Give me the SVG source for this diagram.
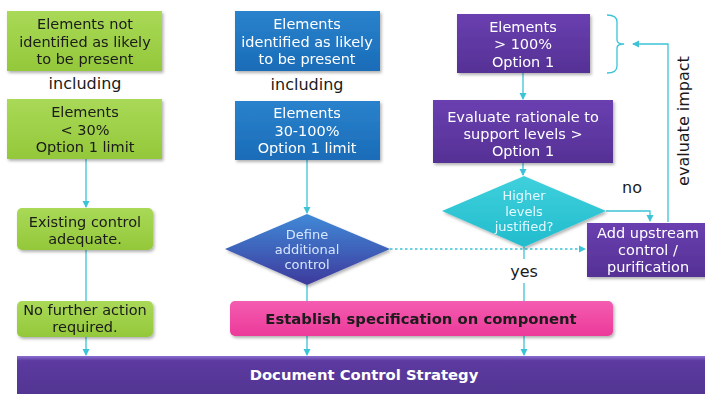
<svg xmlns="http://www.w3.org/2000/svg" width="705" height="394" viewBox="0 0 705 394">
<defs>
<linearGradient id="gGreen" x1="0" y1="0" x2="0" y2="1"><stop offset="0" stop-color="#a9d957"/><stop offset="1" stop-color="#94c83a"/></linearGradient>
<linearGradient id="gBlue" x1="0" y1="0" x2="0" y2="1"><stop offset="0" stop-color="#2a82cc"/><stop offset="1" stop-color="#1a6cb8"/></linearGradient>
<linearGradient id="gPurple" x1="0" y1="0" x2="0" y2="1"><stop offset="0" stop-color="#6a3fb0"/><stop offset="1" stop-color="#553195"/></linearGradient>
<linearGradient id="gBar" x1="0" y1="0" x2="0" y2="1"><stop offset="0" stop-color="#8a6fd0"/><stop offset="0.12" stop-color="#5c3aa0"/><stop offset="1" stop-color="#523592"/></linearGradient>
<linearGradient id="gDef" x1="0" y1="0" x2="0" y2="1"><stop offset="0" stop-color="#3f8ad8"/><stop offset="1" stop-color="#3e3a9c"/></linearGradient>
<linearGradient id="gCyan" x1="0" y1="0" x2="0" y2="1"><stop offset="0" stop-color="#3fd0dc"/><stop offset="1" stop-color="#22bccd"/></linearGradient>
<linearGradient id="gPink" x1="0" y1="0" x2="0" y2="1"><stop offset="0" stop-color="#f45cb0"/><stop offset="1" stop-color="#ec3a9a"/></linearGradient>
<filter id="sh" x="-10%" y="-10%" width="125%" height="130%"><feDropShadow dx="1.5" dy="2" stdDeviation="1.5" flood-color="#000" flood-opacity="0.3"/></filter>
<marker id="arr" markerWidth="8" markerHeight="8" refX="6" refY="4" orient="auto" markerUnits="userSpaceOnUse"><path d="M0,0.5 L7,4 L0,7.5 Z" fill="#3cc3d6"/></marker>
</defs>
<style>
.t{font-family:"DejaVu Sans",Verdana,sans-serif;font-size:14.5px;text-anchor:middle}
.dk{fill:#1a1a1a}
.wh{fill:#ffffff}
.dm{font-size:13px}
.lbl{font-family:"DejaVu Sans",Verdana,sans-serif;font-size:16px;fill:#1a1a1a;text-anchor:middle}
.bd{font-weight:bold;font-size:14.8px}
.ln{stroke:#3cc3d6;stroke-width:1.3;fill:none}
.dot{stroke:#3cc3d6;stroke-width:1.6;fill:none;stroke-dasharray:2.5 2.5}
</style>

<g id="connectors">
<line class="ln" x1="86" y1="159" x2="86" y2="207" marker-end="url(#arr)"/>
<line class="ln" x1="86" y1="250" x2="86" y2="301"/>
<line class="ln" x1="86" y1="337" x2="86" y2="355" marker-end="url(#arr)"/>
<line class="ln" x1="307" y1="160" x2="307" y2="213" marker-end="url(#arr)"/>
<line class="ln" x1="307" y1="285" x2="307" y2="301"/>
<line class="ln" x1="307" y1="336" x2="307" y2="355" marker-end="url(#arr)"/>
<line class="ln" x1="523" y1="73" x2="523" y2="99" marker-end="url(#arr)"/>
<line class="ln" x1="523" y1="163" x2="523" y2="175" marker-end="url(#arr)"/>
<line class="ln" x1="524" y1="247" x2="524" y2="259"/>
<line class="ln" x1="524" y1="283" x2="524" y2="301"/>
<line class="ln" x1="524" y1="336" x2="524" y2="355" marker-end="url(#arr)"/>
<polyline class="ln" points="606,211 650,211 650,221" marker-end="url(#arr)"/>
<line class="dot" x1="390" y1="249" x2="585" y2="249" marker-end="url(#arr)"/>
<polyline class="ln" points="668,222 668,44 633,44" marker-end="url(#arr)"/>
<path class="ln" d="M607,15 Q617,15 617,22 L617,40 Q617,44 624,44 Q617,44 617,48 L617,66 Q617,73 607,73"/>
</g>

<g id="n-not-identified" filter="url(#sh)">
<rect x="7" y="11" width="155" height="60" fill="url(#gGreen)"/>
<text class="t dk" x="85" y="29">Elements not</text>
<text class="t dk" x="85" y="47">identified as likely</text>
<text class="t dk" x="85" y="64">to be present</text>
</g>
<g id="l-including-1"><text class="lbl" x="85" y="89">including</text></g>
<g id="n-lt30" filter="url(#sh)">
<rect x="7" y="99" width="155" height="60" fill="url(#gGreen)"/>
<text class="t dk" x="85" y="117">Elements</text>
<text class="t dk" x="85" y="135">&lt; 30%</text>
<text class="t dk" x="85" y="152">Option 1 limit</text>
</g>
<g id="n-existing" filter="url(#sh)">
<rect x="17" y="208" width="136" height="42" rx="5" fill="url(#gGreen)"/>
<text class="t dk" x="85" y="227">Existing control</text>
<text class="t dk" x="85" y="244">adequate.</text>
</g>
<g id="n-nofurther" filter="url(#sh)">
<rect x="17" y="301" width="136" height="36" rx="5" fill="url(#gGreen)"/>
<text class="t dk" x="85" y="315">No further action</text>
<text class="t dk" x="85" y="332">required.</text>
</g>

<g id="n-identified" filter="url(#sh)">
<rect x="235" y="11" width="145" height="60" fill="url(#gBlue)"/>
<text class="t wh" x="307" y="29">Elements</text>
<text class="t wh" x="307" y="47">identified as likely</text>
<text class="t wh" x="307" y="64">to be present</text>
</g>
<g id="l-including-2"><text class="lbl" x="307" y="90">including</text></g>
<g id="n-30-100" filter="url(#sh)">
<rect x="235" y="101" width="145" height="59" fill="url(#gBlue)"/>
<text class="t wh" x="307" y="118">Elements</text>
<text class="t wh" x="307" y="136">30-100%</text>
<text class="t wh" x="307" y="153">Option 1 limit</text>
</g>
<g id="n-define" filter="url(#sh)">
<polygon points="307,214 390,249 307,285 225,249" fill="url(#gDef)"/>
<text class="t dm" style="fill:#d6e6ff" x="307" y="239">Define</text>
<text class="t dm" style="fill:#d6e6ff" x="307" y="254">additional</text>
<text class="t dm" style="fill:#d6e6ff" x="307" y="269">control</text>
</g>

<g id="n-gt100" filter="url(#sh)">
<rect x="457" y="14" width="133" height="59" fill="url(#gPurple)"/>
<text class="t wh" x="523" y="32">Elements</text>
<text class="t wh" x="523" y="49">&gt; 100%</text>
<text class="t wh" x="523" y="67">Option 1</text>
</g>
<g id="n-evaluate" filter="url(#sh)">
<rect x="433" y="100" width="180" height="63" fill="url(#gPurple)"/>
<text class="t wh" x="523" y="122">Evaluate rationale to</text>
<text class="t wh" x="523" y="139">support levels &gt;</text>
<text class="t wh" x="523" y="156">Option 1</text>
</g>
<g id="n-higher" filter="url(#sh)">
<polygon points="524,176 606,211 524,247 442,211" fill="url(#gCyan)"/>
<text class="t dm" style="fill:#e4f8ff" x="524" y="200">Higher</text>
<text class="t dm" style="fill:#e4f8ff" x="524" y="216">levels</text>
<text class="t dm" style="fill:#e4f8ff" x="524" y="231">justified?</text>
</g>
<g id="n-upstream" filter="url(#sh)">
<rect x="587" y="223" width="122" height="54" fill="url(#gPurple)"/>
<text class="t wh" x="648" y="238">Add upstream</text>
<text class="t wh" x="648" y="255">control /</text>
<text class="t wh" x="648" y="272">purification</text>
</g>
<g id="l-no"><text class="lbl" x="632" y="193">no</text></g>
<g id="l-yes"><text class="lbl" x="524" y="277">yes</text></g>
<g id="l-evaluate-impact"><text class="lbl" transform="translate(689,121) rotate(-90)">evaluate impact</text></g>

<g id="n-establish" filter="url(#sh)">
<rect x="230" y="301" width="383" height="35" rx="5" fill="url(#gPink)"/>
<text class="t dk bd" x="421" y="324">Establish specification on component</text>
</g>
<g id="n-document">
<rect x="17" y="356" width="700" height="40" fill="url(#gBar)"/>
<text class="t wh bd" x="364" y="380">Document Control Strategy</text>
</g>
</svg>
